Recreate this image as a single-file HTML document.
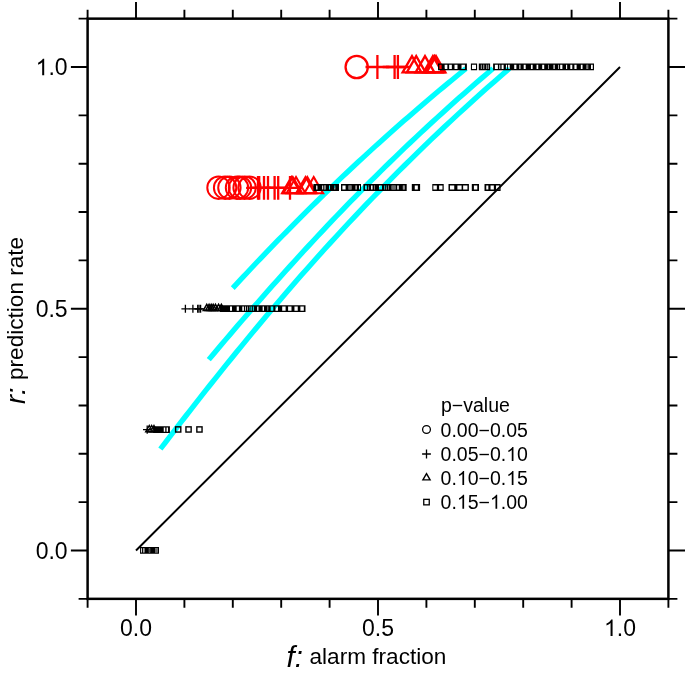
<!DOCTYPE html>
<html><head><meta charset="utf-8"><style>
html,body{margin:0;padding:0;background:#fff;width:685px;height:676px;overflow:hidden}
svg{display:block;will-change:transform}
</style></head><body>
<svg width="685" height="676" viewBox="0 0 685 676">
<rect width="685" height="676" fill="#fff"/>
<path d="M465.97,68.50 L461.39,72.22 L456.83,75.94 L452.31,79.67 L447.80,83.39 L443.32,87.11 L438.87,90.83 L434.44,94.55 L430.03,98.28 L425.65,102.00 L421.29,105.72 L416.96,109.44 L412.65,113.16 L408.36,116.89 L404.10,120.61 L399.86,124.33 L395.64,128.05 L391.44,131.77 L387.27,135.50 L383.11,139.22 L378.98,142.94 L374.88,146.66 L370.79,150.38 L366.72,154.11 L362.68,157.83 L358.65,161.55 L354.65,165.27 L350.67,168.99 L346.70,172.72 L342.76,176.44 L338.84,180.16 L334.94,183.88 L331.05,187.61 L327.19,191.33 L323.34,195.05 L319.51,198.77 L315.71,202.49 L311.91,206.22 L308.14,209.94 L304.39,213.66 L300.65,217.38 L296.93,221.10 L293.23,224.83 L289.55,228.55 L285.88,232.27 L282.23,235.99 L278.60,239.71 L274.98,243.44 L271.38,247.16 L267.79,250.88 L264.22,254.60 L260.66,258.32 L257.12,262.05 L253.60,265.77 L250.09,269.49 L246.60,273.21 L243.12,276.93 L239.65,280.66 L236.20,284.38 L232.76,288.10" fill="none" stroke="#00ffff" stroke-width="5.3" stroke-linejoin="round"/>
<path d="M493.01,68.50 L487.20,73.43 L481.43,78.37 L475.71,83.30 L470.04,88.24 L464.41,93.17 L458.82,98.10 L453.27,103.04 L447.77,107.97 L442.31,112.91 L436.89,117.84 L431.51,122.77 L426.16,127.71 L420.86,132.64 L415.60,137.57 L410.37,142.51 L405.18,147.44 L400.03,152.38 L394.91,157.31 L389.83,162.24 L384.78,167.18 L379.77,172.11 L374.79,177.05 L369.85,181.98 L364.93,186.91 L360.05,191.85 L355.20,196.78 L350.38,201.72 L345.59,206.65 L340.83,211.58 L336.10,216.52 L331.40,221.45 L326.72,226.38 L322.08,231.32 L317.45,236.25 L312.86,241.19 L308.29,246.12 L303.74,251.05 L299.22,255.99 L294.72,260.92 L290.25,265.86 L285.80,270.79 L281.36,275.72 L276.95,280.66 L272.56,285.59 L268.19,290.53 L263.84,295.46 L259.51,300.39 L255.20,305.33 L250.90,310.26 L246.62,315.19 L242.36,320.13 L238.11,325.06 L233.88,330.00 L229.67,334.93 L225.46,339.86 L221.27,344.80 L217.10,349.73 L212.93,354.67 L208.78,359.60" fill="none" stroke="#00ffff" stroke-width="5.3" stroke-linejoin="round"/>
<path d="M509.32,68.50 L501.87,74.95 L494.50,81.40 L487.20,87.85 L479.96,94.30 L472.80,100.75 L465.70,107.19 L458.67,113.64 L451.71,120.09 L444.81,126.54 L437.98,132.99 L431.20,139.44 L424.49,145.89 L417.84,152.34 L411.25,158.79 L404.72,165.24 L398.24,171.69 L391.83,178.14 L385.46,184.58 L379.16,191.03 L372.90,197.48 L366.70,203.93 L360.56,210.38 L354.46,216.83 L348.41,223.28 L342.41,229.73 L336.46,236.18 L330.55,242.63 L324.70,249.08 L318.88,255.53 L313.11,261.97 L307.38,268.42 L301.70,274.87 L296.05,281.32 L290.45,287.77 L284.88,294.22 L279.36,300.67 L273.86,307.12 L268.41,313.57 L262.99,320.02 L257.60,326.47 L252.25,332.92 L246.93,339.36 L241.64,345.81 L236.38,352.26 L231.15,358.71 L225.94,365.16 L220.77,371.61 L215.61,378.06 L210.49,384.51 L205.39,390.96 L200.31,397.41 L195.25,403.86 L190.22,410.31 L185.20,416.75 L180.20,423.20 L175.23,429.65 L170.26,436.10 L165.32,442.55 L160.39,449.00" fill="none" stroke="#00ffff" stroke-width="5.3" stroke-linejoin="round"/>
<line x1="136" y1="550.5" x2="620" y2="67.0" stroke="#000" stroke-width="2"/>
<circle cx="356.7" cy="67.0" r="11.15" fill="none" stroke="#ff0000" stroke-width="2.3"/>
<path d="M365.5,67.0H389.3M377.4,55.1V78.9" stroke="#ff0000" stroke-width="2.3" fill="none"/>
<path d="M382.7,67.0H406.5M394.6,55.1V78.9" stroke="#ff0000" stroke-width="2.3" fill="none"/>
<path d="M386.0,67.0H409.8M397.9,55.1V78.9" stroke="#ff0000" stroke-width="2.3" fill="none"/>
<path d="M412.0,56.1L421.4,72.4H402.6Z" stroke="#ff0000" stroke-width="2.3" fill="none" stroke-linejoin="miter"/>
<path d="M416.2,56.1L425.6,72.4H406.8Z" stroke="#ff0000" stroke-width="2.3" fill="none" stroke-linejoin="miter"/>
<path d="M425.0,56.1L434.4,72.4H415.6Z" stroke="#ff0000" stroke-width="2.3" fill="none" stroke-linejoin="miter"/>
<path d="M432.9,56.1L442.3,72.4H423.5Z" stroke="#ff0000" stroke-width="2.3" fill="none" stroke-linejoin="miter"/>
<path d="M434.5,56.1L443.9,72.4H425.1Z" stroke="#ff0000" stroke-width="2.3" fill="none" stroke-linejoin="miter"/>
<path d="M436.0,56.1L445.4,72.4H426.6Z" stroke="#ff0000" stroke-width="2.3" fill="none" stroke-linejoin="miter"/>
<path d="M438.0,63.4H466.9V70.2H438.0ZM439.35,64.70h2.30v4.20h-2.30ZM444.65,64.70h2.70v4.20h-2.70ZM449.15,64.70h2.70v4.20h-2.70ZM454.50,64.70h3.00v4.20h-3.00ZM461.50,64.70h3.40v4.20h-3.40Z" fill="#000" fill-rule="evenodd"/>
<path d="M470.9,63.4H477.1V70.2H470.9ZM472.00,64.70h4.00v4.20h-4.00Z" fill="#000" fill-rule="evenodd"/>
<path d="M478.8,63.4H490.1V70.2H478.8ZM480.90,64.70h1.00v4.20h-1.00ZM483.20,64.70h1.00v4.20h-1.00ZM486.10,64.70h1.00v4.20h-1.00ZM487.90,64.70h1.00v4.20h-1.00Z" fill="#000" fill-rule="evenodd"/><rect x="480.90" y="64.70" width="1.00" height="4.20" fill="#000" fill-opacity="0.45"/><rect x="483.20" y="64.70" width="1.00" height="4.20" fill="#000" fill-opacity="0.45"/><rect x="486.10" y="64.70" width="1.00" height="4.20" fill="#000" fill-opacity="0.45"/><rect x="487.90" y="64.70" width="1.00" height="4.20" fill="#000" fill-opacity="0.45"/>
<path d="M493.1,63.4H594.0V70.2H493.1ZM494.90,64.70h3.00v4.20h-3.00ZM499.35,64.70h0.90v4.20h-0.90ZM501.60,64.70h2.00v4.20h-2.00ZM505.90,64.70h1.20v4.20h-1.20ZM508.05,64.70h1.70v4.20h-1.70ZM514.20,64.70h2.20v4.20h-2.20ZM519.35,64.70h1.10v4.20h-1.10ZM523.70,64.70h2.00v4.20h-2.00ZM530.95,64.70h1.70v4.20h-1.70ZM536.55,64.70h1.70v4.20h-1.70ZM542.20,64.70h2.00v4.20h-2.00ZM548.10,64.70h0.60v4.20h-0.60ZM553.50,64.70h1.20v4.20h-1.20ZM558.25,64.70h0.70v4.20h-0.70ZM560.20,64.70h2.20v4.20h-2.20ZM566.05,64.70h1.10v4.20h-1.10ZM570.30,64.70h2.00v4.20h-2.00ZM574.40,64.70h2.20v4.20h-2.20ZM580.85,64.70h1.70v4.20h-1.70ZM586.40,64.70h1.80v4.20h-1.80ZM591.00,64.70h1.80v4.20h-1.80Z" fill="#000" fill-rule="evenodd"/><rect x="586.40" y="64.70" width="1.80" height="4.20" fill="#000" fill-opacity="0.5"/>
<circle cx="218.5" cy="187.7" r="11.2" fill="none" stroke="#ff0000" stroke-width="2.0"/>
<circle cx="225.1" cy="187.7" r="11.2" fill="none" stroke="#ff0000" stroke-width="2.0"/>
<circle cx="229.4" cy="187.7" r="11.2" fill="none" stroke="#ff0000" stroke-width="2.0"/>
<circle cx="237.0" cy="187.7" r="11.2" fill="none" stroke="#ff0000" stroke-width="2.0"/>
<circle cx="240.0" cy="187.7" r="11.2" fill="none" stroke="#ff0000" stroke-width="2.0"/>
<circle cx="244.6" cy="187.7" r="11.2" fill="none" stroke="#ff0000" stroke-width="2.0"/>
<circle cx="249.5" cy="187.7" r="11.2" fill="none" stroke="#ff0000" stroke-width="2.0"/>
<path d="M246.1,187.9H269.9M258.0,176.0V199.8" stroke="#ff0000" stroke-width="2.3" fill="none"/>
<path d="M247.3,187.9H271.1M259.2,176.0V199.8" stroke="#ff0000" stroke-width="2.3" fill="none"/>
<path d="M252.1,187.9H275.9M264.0,176.0V199.8" stroke="#ff0000" stroke-width="2.3" fill="none"/>
<path d="M256.1,187.9H279.9M268.0,176.0V199.8" stroke="#ff0000" stroke-width="2.3" fill="none"/>
<path d="M262.7,187.9H286.5M274.6,176.0V199.8" stroke="#ff0000" stroke-width="2.3" fill="none"/>
<path d="M266.3,187.9H290.1M278.2,176.0V199.8" stroke="#ff0000" stroke-width="2.3" fill="none"/>
<path d="M278.1,187.9H301.9M290.0,176.0V199.8" stroke="#ff0000" stroke-width="2.3" fill="none"/>
<path d="M291.4,177.0L300.8,193.3H282.0Z" stroke="#ff0000" stroke-width="2.1" fill="none" stroke-linejoin="miter"/>
<path d="M292.8,177.0L302.2,193.3H283.4Z" stroke="#ff0000" stroke-width="2.1" fill="none" stroke-linejoin="miter"/>
<path d="M296.0,177.0L305.4,193.3H286.6Z" stroke="#ff0000" stroke-width="2.1" fill="none" stroke-linejoin="miter"/>
<path d="M305.5,177.0L314.9,193.3H296.1Z" stroke="#ff0000" stroke-width="2.1" fill="none" stroke-linejoin="miter"/>
<path d="M307.3,177.0L316.7,193.3H297.9Z" stroke="#ff0000" stroke-width="2.1" fill="none" stroke-linejoin="miter"/>
<path d="M313.7,177.0L323.1,193.3H304.3Z" stroke="#ff0000" stroke-width="2.1" fill="none" stroke-linejoin="miter"/>
<path d="M313.4,184.1H339.0V190.9H313.4ZM316.15,185.40h1.30v4.20h-1.30ZM322.20,185.40h1.00v4.20h-1.00ZM324.00,185.40h2.00v4.20h-2.00ZM329.00,185.40h1.00v4.20h-1.00ZM334.30,185.40h1.00v4.20h-1.00Z" fill="#000" fill-rule="evenodd"/><rect x="324.00" y="185.40" width="2.00" height="4.20" fill="#000" fill-opacity="0.5"/><rect x="334.30" y="185.40" width="1.00" height="4.20" fill="#000" fill-opacity="0.3"/>
<path d="M341.0,184.1H361.0V190.9H341.0ZM342.40,185.40h3.20v4.20h-3.20ZM348.50,185.40h3.00v4.20h-3.00ZM355.55,185.40h1.10v4.20h-1.10ZM359.00,185.40h1.00v4.20h-1.00Z" fill="#000" fill-rule="evenodd"/><rect x="348.50" y="185.40" width="3.00" height="4.20" fill="#000" fill-opacity="0.55"/>
<path d="M363.4,184.1H406.7V190.9H363.4ZM364.95,185.40h1.90v4.20h-1.90ZM367.95,185.40h1.10v4.20h-1.10ZM371.05,185.40h1.50v4.20h-1.50ZM374.00,185.40h0.80v4.20h-0.80ZM379.00,185.40h3.00v4.20h-3.00ZM384.30,185.40h0.80v4.20h-0.80ZM386.20,185.40h0.80v4.20h-0.80ZM388.10,185.40h0.80v4.20h-0.80ZM391.60,185.40h4.00v4.20h-4.00ZM397.25,185.40h1.50v4.20h-1.50ZM402.85,185.40h1.90v4.20h-1.90Z" fill="#000" fill-rule="evenodd"/><rect x="367.95" y="185.40" width="1.10" height="4.20" fill="#000" fill-opacity="0.5"/><rect x="374.00" y="185.40" width="0.80" height="4.20" fill="#000" fill-opacity="0.5"/><rect x="386.20" y="185.40" width="0.80" height="4.20" fill="#000" fill-opacity="0.5"/><rect x="388.10" y="185.40" width="0.80" height="4.20" fill="#000" fill-opacity="0.5"/><rect x="391.60" y="185.40" width="4.00" height="4.20" fill="#000" fill-opacity="0.6"/><rect x="402.85" y="185.40" width="1.90" height="4.20" fill="#000" fill-opacity="0.4"/>
<path d="M411.8,184.1H420.1V190.9H411.8ZM414.75,185.40h3.10v4.20h-3.10Z" fill="#000" fill-rule="evenodd"/>
<path d="M432.3,184.1H443.7V190.9H432.3ZM433.35,185.40h3.50v4.20h-3.50ZM439.10,185.40h3.40v4.20h-3.40Z" fill="#000" fill-rule="evenodd"/>
<path d="M448.5,184.1H468.9V190.9H448.5ZM449.95,185.40h4.30v4.20h-4.30ZM457.40,185.40h4.20v4.20h-4.20ZM463.15,185.40h4.30v4.20h-4.30Z" fill="#000" fill-rule="evenodd"/>
<path d="M471.8,184.1H479.0V190.9H471.8ZM473.90,185.40h3.40v4.20h-3.40Z" fill="#000" fill-rule="evenodd"/>
<path d="M484.5,184.1H500.6V190.9H484.5ZM486.25,185.40h2.10v4.20h-2.10ZM490.55,185.40h3.30v4.20h-3.30ZM496.05,185.40h3.30v4.20h-3.30Z" fill="#000" fill-rule="evenodd"/>
<path d="M181.4,308.8H189.4M185.4,304.8V312.8" stroke="#000" stroke-width="1.3" fill="none"/>
<path d="M188.9,308.8H196.9M192.9,304.8V312.8" stroke="#000" stroke-width="1.3" fill="none"/>
<path d="M193.7,308.8H201.7M197.7,304.8V312.8" stroke="#000" stroke-width="1.3" fill="none"/>
<path d="M195.0,308.8H203.0M199.0,304.8V312.8" stroke="#000" stroke-width="1.3" fill="none"/>
<path d="M196.6,308.8H204.6M200.6,304.8V312.8" stroke="#000" stroke-width="1.3" fill="none"/>
<path d="M206.8,304.3L210.4,310.5H203.2Z" stroke="#000" stroke-width="1.5" fill="none" stroke-linejoin="miter"/>
<path d="M209.1,304.3L212.7,310.5H205.5Z" stroke="#000" stroke-width="1.5" fill="none" stroke-linejoin="miter"/>
<path d="M211.2,304.3L214.8,310.5H207.6Z" stroke="#000" stroke-width="1.5" fill="none" stroke-linejoin="miter"/>
<path d="M213.2,304.3L216.8,310.5H209.6Z" stroke="#000" stroke-width="1.5" fill="none" stroke-linejoin="miter"/>
<path d="M215.5,304.3L219.1,310.5H211.9Z" stroke="#000" stroke-width="1.5" fill="none" stroke-linejoin="miter"/>
<path d="M218.6,304.3L222.2,310.5H215.0Z" stroke="#000" stroke-width="1.5" fill="none" stroke-linejoin="miter"/>
<path d="M221.4,304.3L225.0,310.5H217.8Z" stroke="#000" stroke-width="1.5" fill="none" stroke-linejoin="miter"/>
<path d="M220.0,305.2H305.5V312.0H220.0ZM230.00,306.50h2.00v4.20h-2.00ZM236.70,306.50h2.20v4.20h-2.20ZM242.30,306.50h1.60v4.20h-1.60ZM245.20,306.50h0.80v4.20h-0.80ZM247.20,306.50h0.60v4.20h-0.60ZM249.60,306.50h0.80v4.20h-0.80ZM251.30,306.50h0.80v4.20h-0.80ZM253.10,306.50h0.80v4.20h-0.80ZM257.15,306.50h1.30v4.20h-1.30ZM262.65,306.50h1.30v4.20h-1.30ZM267.40,306.50h0.80v4.20h-0.80ZM270.70,306.50h2.60v4.20h-2.60ZM275.45,306.50h2.50v4.20h-2.50ZM282.20,306.50h3.40v4.20h-3.40ZM288.10,306.50h3.40v4.20h-3.40ZM294.45,306.50h3.30v4.20h-3.30ZM300.40,306.50h3.40v4.20h-3.40Z" fill="#000" fill-rule="evenodd"/><rect x="267.40" y="306.50" width="0.80" height="4.20" fill="#000" fill-opacity="0.5"/>
<path d="M143.0,429.6H151.4M147.2,425.4V433.8" stroke="#000" stroke-width="1.3" fill="none"/>
<path d="M149.3,425.5L152.9,431.7H145.7Z" stroke="#000" stroke-width="1.4" fill="none" stroke-linejoin="miter"/>
<path d="M151.7,425.5L155.3,431.7H148.1Z" stroke="#000" stroke-width="1.4" fill="none" stroke-linejoin="miter"/>
<path d="M154.0,425.5L157.6,431.7H150.4Z" stroke="#000" stroke-width="1.4" fill="none" stroke-linejoin="miter"/>
<path d="M153.1,426.2H169.9V433.0H153.1ZM163.75,427.52h1.50v4.20h-1.50ZM166.55,427.52h1.50v4.20h-1.50Z" fill="#000" fill-rule="evenodd"/>
<rect x="175.60" y="426.85" width="5.20" height="5.20" fill="none" stroke="#000" stroke-width="1.4"/>
<rect x="185.95" y="426.85" width="5.20" height="5.20" fill="none" stroke="#000" stroke-width="1.4"/>
<rect x="196.85" y="426.85" width="5.20" height="5.20" fill="none" stroke="#000" stroke-width="1.4"/>
<path d="M140.0,547.0H159.0V553.8H140.0ZM140.95,548.30h1.10v4.20h-1.10ZM143.05,548.30h1.50v4.20h-1.50ZM148.85,548.30h1.30v4.20h-1.30ZM155.00,548.30h2.80v4.20h-2.80Z" fill="#000" fill-rule="evenodd"/><rect x="140.95" y="548.30" width="1.10" height="4.20" fill="#000" fill-opacity="0.15"/><rect x="143.05" y="548.30" width="1.50" height="4.20" fill="#000" fill-opacity="0.3"/><rect x="148.85" y="548.30" width="1.30" height="4.20" fill="#000" fill-opacity="0.7"/><rect x="155.00" y="548.30" width="2.80" height="4.20" fill="#000" fill-opacity="0.6"/>
<rect x="87.6" y="18.649999999999977" width="580.8000000000001" height="580.2" fill="none" stroke="#000" stroke-width="2.5"/>
<path d="M87.60,598.85v9M87.60,18.65v-9M87.60,598.85h-9M668.40,598.85h9M136.00,598.85v16.7M136.00,18.65v-16.7M87.60,550.50h-16.7M668.40,550.50h16.7M184.40,598.85v9M184.40,18.65v-9M87.60,502.15h-9M668.40,502.15h9M232.80,598.85v9M232.80,18.65v-9M87.60,453.80h-9M668.40,453.80h9M281.20,598.85v9M281.20,18.65v-9M87.60,405.45h-9M668.40,405.45h9M329.60,598.85v9M329.60,18.65v-9M87.60,357.10h-9M668.40,357.10h9M378.00,598.85v16.7M378.00,18.65v-16.7M87.60,308.75h-16.7M668.40,308.75h16.7M426.40,598.85v9M426.40,18.65v-9M87.60,260.40h-9M668.40,260.40h9M474.80,598.85v9M474.80,18.65v-9M87.60,212.05h-9M668.40,212.05h9M523.20,598.85v9M523.20,18.65v-9M87.60,163.70h-9M668.40,163.70h9M571.60,598.85v9M571.60,18.65v-9M87.60,115.35h-9M668.40,115.35h9M620.00,598.85v16.7M620.00,18.65v-16.7M87.60,67.00h-16.7M668.40,67.00h16.7M668.40,598.85v9M668.40,18.65v-9M87.60,18.65h-9M668.40,18.65h9" stroke="#000" stroke-width="1.9" fill="none"/>
<text x="120.01" y="636.00" style="font-family:&quot;Liberation Sans&quot;,sans-serif;font-size:23px">0.0</text>
<text x="35.63" y="558.70" style="font-family:&quot;Liberation Sans&quot;,sans-serif;font-size:23px">0.0</text>
<text x="362.01" y="636.00" style="font-family:&quot;Liberation Sans&quot;,sans-serif;font-size:23px">0.5</text>
<text x="35.63" y="316.95" style="font-family:&quot;Liberation Sans&quot;,sans-serif;font-size:23px">0.5</text>
<path d="M763,0H583V1147Q518,1085 412,1023Q306,961 222,930V1104Q373,1175 486,1276Q599,1377 646,1466H763Z" transform="translate(604.01,636.00) scale(0.01123,-0.01123)" fill="#000"/>
<text x="616.80" y="636.00" style="font-family:&quot;Liberation Sans&quot;,sans-serif;font-size:23px">.0</text>
<path d="M763,0H583V1147Q518,1085 412,1023Q306,961 222,930V1104Q373,1175 486,1276Q599,1377 646,1466H763Z" transform="translate(35.63,75.20) scale(0.01123,-0.01123)" fill="#000"/>
<text x="48.42" y="75.20" style="font-family:&quot;Liberation Sans&quot;,sans-serif;font-size:23px">.0</text>
<text x="286.5" y="666.5" style="font-family:&quot;Liberation Sans&quot;,sans-serif;font-style:italic;font-size:29.5px">f:</text>
<text x="309.5" y="664.3" style="font-family:&quot;Liberation Sans&quot;,sans-serif;font-size:22.6px">alarm fraction</text>
<text transform="translate(24.5,404) rotate(-90)" style="font-family:&quot;Liberation Sans&quot;,sans-serif;font-style:italic;font-size:27px">r:</text>
<text transform="translate(22.5,380) rotate(-90)" style="font-family:&quot;Liberation Sans&quot;,sans-serif;font-size:22.6px">prediction rate</text>
<text x="441" y="411.7" style="font-family:&quot;Liberation Sans&quot;,sans-serif;font-size:19.5px">p−value</text>
<text x="440.60" y="436.60" style="font-family:&quot;Liberation Sans&quot;,sans-serif;font-size:19.5px">0.00−0.05</text>
<text x="440.60" y="460.90" style="font-family:&quot;Liberation Sans&quot;,sans-serif;font-size:19.5px">0.05−0.</text>
<path d="M763,0H583V1147Q518,1085 412,1023Q306,961 222,930V1104Q373,1175 486,1276Q599,1377 646,1466H763Z" transform="translate(506.20,460.90) scale(0.00952,-0.00952)" fill="#000"/>
<text x="517.05" y="460.90" style="font-family:&quot;Liberation Sans&quot;,sans-serif;font-size:19.5px">0</text>
<text x="440.60" y="484.90" style="font-family:&quot;Liberation Sans&quot;,sans-serif;font-size:19.5px">0.</text>
<path d="M763,0H583V1147Q518,1085 412,1023Q306,961 222,930V1104Q373,1175 486,1276Q599,1377 646,1466H763Z" transform="translate(456.86,484.90) scale(0.00952,-0.00952)" fill="#000"/>
<text x="467.71" y="484.90" style="font-family:&quot;Liberation Sans&quot;,sans-serif;font-size:19.5px">0−0.</text>
<path d="M763,0H583V1147Q518,1085 412,1023Q306,961 222,930V1104Q373,1175 486,1276Q599,1377 646,1466H763Z" transform="translate(506.20,484.90) scale(0.00952,-0.00952)" fill="#000"/>
<text x="517.05" y="484.90" style="font-family:&quot;Liberation Sans&quot;,sans-serif;font-size:19.5px">5</text>
<text x="440.60" y="508.70" style="font-family:&quot;Liberation Sans&quot;,sans-serif;font-size:19.5px">0.</text>
<path d="M763,0H583V1147Q518,1085 412,1023Q306,961 222,930V1104Q373,1175 486,1276Q599,1377 646,1466H763Z" transform="translate(456.86,508.70) scale(0.00952,-0.00952)" fill="#000"/>
<text x="467.71" y="508.70" style="font-family:&quot;Liberation Sans&quot;,sans-serif;font-size:19.5px">5−</text>
<path d="M763,0H583V1147Q518,1085 412,1023Q306,961 222,930V1104Q373,1175 486,1276Q599,1377 646,1466H763Z" transform="translate(489.94,508.70) scale(0.00952,-0.00952)" fill="#000"/>
<text x="500.79" y="508.70" style="font-family:&quot;Liberation Sans&quot;,sans-serif;font-size:19.5px">.00</text>
<circle cx="426.5" cy="429.5" r="3.9" fill="none" stroke="#000" stroke-width="1.3"/>
<path d="M422.1,454.0H430.9M426.5,449.6V458.4" stroke="#000" stroke-width="1.3" fill="none"/>
<path d="M426.5,473.6L430.1,479.9H422.9Z" stroke="#000" stroke-width="1.4" fill="none" stroke-linejoin="miter"/>
<rect x="423.75" y="499.35" width="5.50" height="5.50" fill="none" stroke="#000" stroke-width="1.3"/>
</svg>
</body></html>
